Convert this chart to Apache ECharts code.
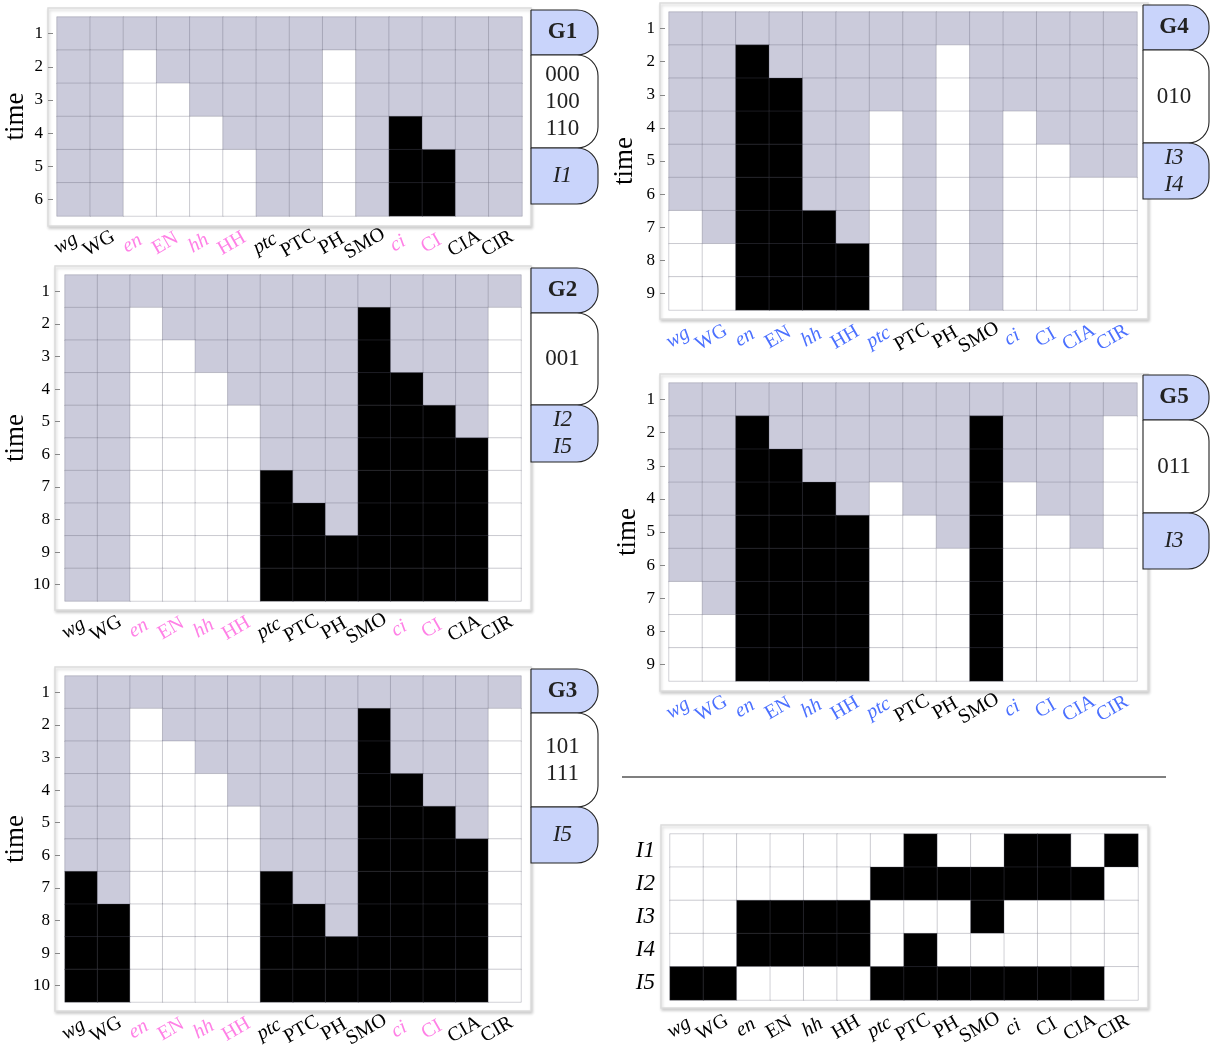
<!DOCTYPE html>
<html>
<head>
<meta charset="utf-8">
<script src="https://cdn.jsdelivr.net/npm/echarts@6/dist/echarts.min.js"></script>
<style>
html,body{margin:0;padding:0;background:#fff;overflow:hidden;}
#chart{width:1213px;height:1051px;}
</style>
</head>
<body>
<div id="chart"></div>
<script>
// ---------- DATA ----------
const COLS = ['wg','WG','en','EN','hh','HH','ptc','PTC','PH','SMO','ci','CI','CIA','CIR'];
const TIME6 = ['1','2','3','4','5','6'];
const TIME9 = ['1','2','3','4','5','6','7','8','9'];
const TIME10 = ['1','2','3','4','5','6','7','8','9','10'];
const INPUT_ROWS = ['I1','I2','I3','I4','I5'];

// 0 = undetermined (grey), 1 = off (white), 2 = on (black)
const G1_CELLS = [
  [0,0,0,0,0,0,0,0,0,0,0,0,0,0],
  [0,0,1,0,0,0,0,0,1,0,0,0,0,0],
  [0,0,1,1,0,0,0,0,1,0,0,0,0,0],
  [0,0,1,1,1,0,0,0,1,0,2,0,0,0],
  [0,0,1,1,1,1,0,0,1,0,2,2,0,0],
  [0,0,1,1,1,1,0,0,1,0,2,2,0,0]
];
const G2_CELLS = [
  [0,0,0,0,0,0,0,0,0,0,0,0,0,0],
  [0,0,1,0,0,0,0,0,0,2,0,0,0,1],
  [0,0,1,1,0,0,0,0,0,2,0,0,0,1],
  [0,0,1,1,1,0,0,0,0,2,2,0,0,1],
  [0,0,1,1,1,1,0,0,0,2,2,2,0,1],
  [0,0,1,1,1,1,0,0,0,2,2,2,2,1],
  [0,0,1,1,1,1,2,0,0,2,2,2,2,1],
  [0,0,1,1,1,1,2,2,0,2,2,2,2,1],
  [0,0,1,1,1,1,2,2,2,2,2,2,2,1],
  [0,0,1,1,1,1,2,2,2,2,2,2,2,1]
];
const G3_CELLS = [
  [0,0,0,0,0,0,0,0,0,0,0,0,0,0],
  [0,0,1,0,0,0,0,0,0,2,0,0,0,1],
  [0,0,1,1,0,0,0,0,0,2,0,0,0,1],
  [0,0,1,1,1,0,0,0,0,2,2,0,0,1],
  [0,0,1,1,1,1,0,0,0,2,2,2,0,1],
  [0,0,1,1,1,1,0,0,0,2,2,2,2,1],
  [2,0,1,1,1,1,2,0,0,2,2,2,2,1],
  [2,2,1,1,1,1,2,2,0,2,2,2,2,1],
  [2,2,1,1,1,1,2,2,2,2,2,2,2,1],
  [2,2,1,1,1,1,2,2,2,2,2,2,2,1]
];
const G4_CELLS = [
  [0,0,0,0,0,0,0,0,0,0,0,0,0,0],
  [0,0,2,0,0,0,0,0,1,0,0,0,0,0],
  [0,0,2,2,0,0,0,0,1,0,0,0,0,0],
  [0,0,2,2,0,0,1,0,1,0,1,0,0,0],
  [0,0,2,2,0,0,1,0,1,0,1,1,0,0],
  [0,0,2,2,0,0,1,0,1,0,1,1,1,1],
  [1,0,2,2,2,0,1,0,1,0,1,1,1,1],
  [1,1,2,2,2,2,1,0,1,0,1,1,1,1],
  [1,1,2,2,2,2,1,0,1,0,1,1,1,1]
];
const G5_CELLS = [
  [0,0,0,0,0,0,0,0,0,0,0,0,0,0],
  [0,0,2,0,0,0,0,0,0,2,0,0,0,1],
  [0,0,2,2,0,0,0,0,0,2,0,0,0,1],
  [0,0,2,2,2,0,1,0,0,2,1,0,0,1],
  [0,0,2,2,2,2,1,1,0,2,1,1,0,1],
  [0,0,2,2,2,2,1,1,1,2,1,1,1,1],
  [1,0,2,2,2,2,1,1,1,2,1,1,1,1],
  [1,1,2,2,2,2,1,1,1,2,1,1,1,1],
  [1,1,2,2,2,2,1,1,1,2,1,1,1,1]
];
const INPUT_CELLS = [
  [1,1,1,1,1,1,1,2,1,1,2,2,1,2],
  [1,1,1,1,1,1,2,2,2,2,2,2,2,1],
  [1,1,2,2,2,2,1,1,1,2,1,1,1,1],
  [1,1,2,2,2,2,1,2,1,1,1,1,1,1],
  [2,2,1,1,1,1,2,2,2,2,2,2,2,1]
];

// label colour keys per column: k = black, p = pink, b = blue
const LABELS_LEFT   = ['k','k','p','p','p','p','k','k','k','k','p','p','k','k'];
const LABELS_RIGHT  = ['b','b','b','b','b','b','b','k','k','k','b','b','b','b'];
const LABELS_BOTTOM = ['k','k','k','k','k','k','k','k','k','k','k','k','k','k'];

const BADGE_NAMES  = ['G1','G2','G3','G4','G5'];
const BADGE_STATES = [['000','100','110'],['001'],['101','111'],['010'],['011']];
const BADGE_INPUTS = [['I1'],['I2','I5'],['I5'],['I3','I4'],['I3']];

// ---------- STYLE / LAYOUT ----------
const GRAY = '#cbcbdb', PINK = '#ff80e6', BLUE = '#4b70ff', BADGE_BLUE = '#c9d4fb';
const SERIF = '"Liberation Serif","DejaVu Serif",serif';
const XFS = 20;

const panels = [
  {cells:G1_CELLS, rows:TIME6,  labels:LABELS_LEFT,  grid:[57,17,465,199],  frame:[48,8,483,218],  nameGap:19, badge:{x:531,w:67,ys:[10,55,148,204]}},
  {cells:G2_CELLS, rows:TIME10, labels:LABELS_LEFT,  grid:[65,275,456,326], frame:[55,266,476,344], nameGap:24, badge:{x:531,w:67,ys:[268,313,405,462]}},
  {cells:G3_CELLS, rows:TIME10, labels:LABELS_LEFT,  grid:[65,676,456,326], frame:[55,667,476,344], nameGap:24, badge:{x:531,w:67,ys:[669,713,807,863]}},
  {cells:G4_CELLS, rows:TIME9,  labels:LABELS_RIGHT, grid:[669,12,468,298], frame:[660,3,488,316],  nameGap:22, badge:{x:1143,w:66,ys:[5,50,143,199]}},
  {cells:G5_CELLS, rows:TIME9,  labels:LABELS_RIGHT, grid:[669,383,468,298],frame:[660,374,488,317], nameGap:19, badge:{x:1143,w:66,ys:[375,420,513,569]}},
  {cells:INPUT_CELLS, rows:INPUT_ROWS, labels:LABELS_BOTTOM, grid:[670,834,468,166], frame:[661,825,487,183], nameGap:0, badge:null}
];

const rich = {
  k:{color:'#000',fontFamily:SERIF,fontSize:XFS},
  ki:{color:'#000',fontFamily:SERIF,fontSize:XFS,fontStyle:'italic'},
  p:{color:PINK,fontFamily:SERIF,fontSize:XFS},
  pi:{color:PINK,fontFamily:SERIF,fontSize:XFS,fontStyle:'italic'},
  b:{color:BLUE,fontFamily:SERIF,fontSize:XFS},
  bi:{color:BLUE,fontFamily:SERIF,fontSize:XFS,fontStyle:'italic'}
};

const grids=[], xAxes=[], yAxes=[], series=[], graphics=[];
panels.forEach((p,i)=>{
  grids.push({left:p.grid[0], top:p.grid[1], width:p.grid[2], height:p.grid[3],
    containLabel:false, outerBoundsMode:'none'});
  const labs = p.labels;
  xAxes.push({
    type:'category', gridIndex:i, data:COLS,
    axisLine:{show:false}, axisTick:{show:false}, splitLine:{show:false},
    axisLabel:{
      interval:0, rotate:30, align:'center', verticalAlign:'middle', margin:23,
      padding:[0,18,0,0],
      formatter:(v,idx)=>{
        const c = labs[idx];
        const it = (v === v.toLowerCase()) ? 'i' : '';
        return '{' + c + it + '|' + v + '}';
      },
      rich: rich
    }
  });
  const isInput = (p.rows === INPUT_ROWS);
  yAxes.push({
    type:'category', gridIndex:i, data:p.rows, inverse:true,
    offset: p.grid[0]-p.frame[0],
    name: isInput ? '' : 'time', nameLocation:'middle', nameGap:p.nameGap, nameRotate:90,
    nameTextStyle:{fontFamily:SERIF, fontSize:27, color:'#000'},
    axisLine:{show:false},
    axisTick:{show:!isInput, inside:true, length:5, alignWithLabel:true, lineStyle:{color:'#888'}},
    splitLine:{show:false},
    axisLabel:{margin: isInput ? 6 : 5, fontFamily:SERIF, fontSize: isInput ? 23 : 17,
      fontStyle: isInput ? 'italic' : 'normal', color:'#000'}
  });
  const data=[];
  p.cells.forEach((row,r)=>row.forEach((v,c)=>data.push([c,r,v])));
  series.push({
    type:'heatmap', xAxisIndex:i, yAxisIndex:i, data:data, silent:true,
    itemStyle:{borderColor:'rgba(95,95,110,0.28)', borderWidth:1},
    emphasis:{disabled:true}, z:2
  });
  // frame
  graphics.push({type:'rect', z:-10, shape:{x:p.frame[0], y:p.frame[1], width:p.frame[2], height:p.frame[3]},
    style:{fill:'#fff', stroke:'#dcdcdc', lineWidth:1.5, shadowBlur:3, shadowOffsetX:1, shadowOffsetY:2, shadowColor:'rgba(0,0,0,0.18)'}});
  if(p.badge){
    const b=p.badge, ys=b.ys, R=21;
    const texts=[
      {t:BADGE_NAMES[i], fill:BADGE_BLUE, font:'bold 23px '+SERIF},
      {t:BADGE_STATES[i].join('\n'), fill:'#fff', font:'23px '+SERIF},
      {t:BADGE_INPUTS[i].join('\n'), fill:BADGE_BLUE, font:'italic 23px '+SERIF}
    ];
    texts.forEach((tx,k)=>{
      graphics.push({type:'rect', z:10, shape:{x:b.x, y:ys[k], width:b.w, height:ys[k+1]-ys[k], r:[0,R,R,0]},
        style:{fill:tx.fill, stroke:'#222', lineWidth:1.1}});
      graphics.push({type:'text', z:11, x:b.x+b.w/2-2, y:(ys[k]+ys[k+1])/2,
        style:{text:tx.t, font:tx.font, fill:'#222', align:'center', verticalAlign:'middle', lineHeight:27}});
    });
  }
});
graphics.push({type:'line', z:5, shape:{x1:622,y1:777,x2:1166,y2:777}, style:{stroke:'#555', lineWidth:1.4}});

const chart = echarts.init(document.getElementById('chart'), null, {renderer:'canvas'});
chart.setOption({
  animation:false,
  backgroundColor:'#fff',
  grid:grids, xAxis:xAxes, yAxis:yAxes, series:series,
  visualMap:{type:'piecewise', show:false, dimension:2, seriesIndex:series.map((s,i)=>i),
    pieces:[{value:0,color:GRAY},{value:1,color:'#ffffff'},{value:2,color:'#000000'}]},
  graphic:graphics
});
</script>
</body>
</html>
